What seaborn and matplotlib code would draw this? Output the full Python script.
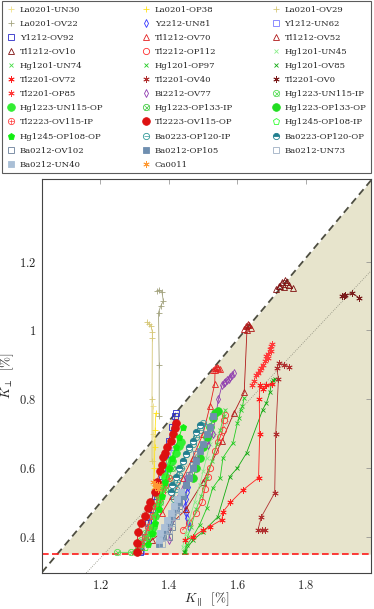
import matplotlib
matplotlib.use("Agg")
import matplotlib.pyplot as plt
from matplotlib.lines import Line2D
from matplotlib.ticker import FuncFormatter
import seaborn as sns

# ---- series values (K_par, K_perp in %) ----
la0201_un30_x = [1.354, 1.354, 1.355, 1.355]
la0201_un30_y = [0.78, 0.70, 0.62, 0.55]
la0201_op38_x = [1.362, 1.360, 1.359, 1.358, 1.356]
la0201_op38_y = [0.76, 0.71, 0.66, 0.60, 0.54]
la0201_ov29_x = [1.337, 1.342, 1.348, 1.352, 1.352, 1.351, 1.351]
la0201_ov29_y = [1.025, 1.020, 1.012, 0.996, 0.978, 0.80, 0.62]
la0201_ov22_x = [1.366, 1.372, 1.380, 1.384, 1.376, 1.370, 1.372, 1.372]
la0201_ov22_y = [1.115, 1.118, 1.112, 1.085, 1.070, 1.052, 0.90, 0.75]
y2212_un81_x = [1.455, 1.452, 1.450, 1.448, 1.450, 1.452, 1.455, 1.458]
y2212_un81_y = [0.545, 0.530, 0.510, 0.490, 0.470, 0.455, 0.440, 0.430]
y1212_un62_x = [1.41, 1.40, 1.39, 1.38, 1.37, 1.36, 1.35, 1.34, 1.32]
y1212_un62_y = [0.66, 0.62, 0.58, 0.55, 0.52, 0.49, 0.45, 0.41, 0.36]
y1212_ov92_x = [1.420, 1.418, 1.410, 1.400, 1.390, 1.380, 1.370, 1.360, 1.350, 1.340, 1.330, 1.315]
y1212_ov92_y = [0.760, 0.750, 0.720, 0.680, 0.640, 0.600, 0.560, 0.520, 0.480, 0.440, 0.400, 0.355]
tl1212_ov70_x = [1.530, 1.535, 1.540, 1.545, 1.550, 1.535, 1.534, 1.520, 1.500, 1.470, 1.440, 1.410, 1.380, 1.350, 1.330]
tl1212_ov70_y = [0.885, 0.890, 0.895, 0.892, 0.888, 0.885, 0.845, 0.780, 0.700, 0.630, 0.570, 0.520, 0.470, 0.430, 0.390]
tl1212_ov52_x = [1.620, 1.625, 1.630, 1.635, 1.640, 1.628, 1.620, 1.590, 1.555, 1.500, 1.450, 1.400, 1.350, 1.320]
tl1212_ov52_y = [1.005, 1.012, 1.018, 1.015, 1.008, 1.000, 0.820, 0.760, 0.680, 0.560, 0.480, 0.430, 0.390, 0.370]
tl1212_ov10_x = [1.714, 1.722, 1.730, 1.738, 1.745, 1.752, 1.761, 1.735, 1.725]
tl1212_ov10_y = [1.120, 1.130, 1.140, 1.146, 1.140, 1.132, 1.122, 1.125, 1.128]
tl2212_op112_x = [1.563, 1.560, 1.557, 1.550, 1.543, 1.535, 1.520, 1.514, 1.505, 1.497, 1.480, 1.460, 1.440]
tl2212_op112_y = [0.755, 0.740, 0.710, 0.690, 0.675, 0.650, 0.600, 0.575, 0.540, 0.500, 0.470, 0.440, 0.420]
hg1201_un45_x = [1.530, 1.520, 1.510, 1.500, 1.490, 1.475, 1.460, 1.450, 1.440]
hg1201_un45_y = [0.700, 0.670, 0.630, 0.590, 0.550, 0.500, 0.450, 0.410, 0.370]
hg1201_un74_x = [1.565, 1.560, 1.550, 1.540, 1.525, 1.510, 1.495, 1.480, 1.465, 1.455, 1.447]
hg1201_un74_y = [0.770, 0.750, 0.710, 0.670, 0.620, 0.570, 0.520, 0.480, 0.430, 0.400, 0.360]
hg1201_op97_x = [1.620, 1.615, 1.610, 1.605, 1.600, 1.587, 1.558, 1.550, 1.528, 1.511, 1.490, 1.470, 1.453, 1.447]
hg1201_op97_y = [0.805, 0.780, 0.770, 0.745, 0.730, 0.673, 0.630, 0.572, 0.542, 0.484, 0.435, 0.400, 0.376, 0.356]
hg1201_ov85_x = [1.710, 1.705, 1.700, 1.695, 1.685, 1.674, 1.627, 1.600, 1.578, 1.543, 1.500, 1.470, 1.445]
hg1201_ov85_y = [0.860, 0.855, 0.850, 0.820, 0.790, 0.770, 0.644, 0.600, 0.575, 0.458, 0.415, 0.390, 0.355]
tl2201_ov72_x = [1.685, 1.700, 1.675, 1.665, 1.664, 1.665, 1.662, 1.616, 1.580, 1.558, 1.555, 1.520, 1.500, 1.470, 1.447]
tl2201_ov72_y = [0.840, 0.845, 0.830, 0.840, 0.800, 0.700, 0.572, 0.536, 0.500, 0.473, 0.450, 0.430, 0.420, 0.400, 0.390]
tl2201_ov40_x = [1.750, 1.735, 1.722, 1.715, 1.720, 1.712, 1.709, 1.670, 1.660, 1.672, 1.682]
tl2201_ov40_y = [0.895, 0.900, 0.905, 0.890, 0.860, 0.700, 0.528, 0.458, 0.420, 0.420, 0.420]
tl2201_ov0_x = [1.905, 1.910, 1.915, 1.935, 1.955]
tl2201_ov0_y = [1.100, 1.100, 1.102, 1.108, 1.095]
tl2201_op85_x = [1.642, 1.648, 1.655, 1.660, 1.665, 1.670, 1.675, 1.680, 1.685, 1.690, 1.695, 1.698, 1.700, 1.697, 1.690]
tl2201_op85_y = [0.842, 0.852, 0.870, 0.875, 0.885, 0.890, 0.900, 0.910, 0.925, 0.930, 0.945, 0.955, 0.960, 0.940, 0.920]
bi2212_ov77_x = [1.590, 1.585, 1.580, 1.575, 1.570, 1.565, 1.560, 1.555, 1.545, 1.528, 1.514, 1.480, 1.450, 1.430, 1.410, 1.400]
bi2212_ov77_y = [0.877, 0.870, 0.865, 0.860, 0.855, 0.850, 0.848, 0.840, 0.800, 0.700, 0.667, 0.620, 0.570, 0.520, 0.450, 0.390]
hg1223_un115_ip_x = [1.250, 1.290, 1.310, 1.320, 1.330, 1.340, 1.350, 1.360, 1.370, 1.380]
hg1223_un115_ip_y = [0.355, 0.355, 0.370, 0.390, 0.410, 0.430, 0.460, 0.490, 0.520, 0.550]
hg1223_un115_op_x = [1.435, 1.430, 1.420, 1.410, 1.400, 1.390, 1.380, 1.370, 1.365, 1.360, 1.355, 1.350]
hg1223_un115_op_y = [0.675, 0.665, 0.645, 0.620, 0.600, 0.575, 0.550, 0.520, 0.490, 0.460, 0.430, 0.410]
hg1223_op133_ip_x = [1.310, 1.320, 1.335, 1.350, 1.360, 1.375, 1.390, 1.400, 1.410]
hg1223_op133_ip_y = [0.360, 0.380, 0.400, 0.430, 0.460, 0.500, 0.540, 0.570, 0.600]
hg1223_op133_op_x = [1.545, 1.535, 1.530, 1.520, 1.510, 1.500, 1.490, 1.480, 1.470]
hg1223_op133_op_y = [0.765, 0.760, 0.745, 0.720, 0.690, 0.660, 0.630, 0.600, 0.570]
tl2223_ov115_ip_x = [1.310, 1.320, 1.330, 1.340, 1.350, 1.360, 1.370, 1.380, 1.390, 1.400]
tl2223_ov115_ip_y = [0.355, 0.380, 0.400, 0.430, 0.460, 0.490, 0.510, 0.530, 0.550, 0.570]
tl2223_ov115_op_x = [1.420, 1.418, 1.413, 1.405, 1.395, 1.390, 1.383, 1.380, 1.374, 1.365, 1.360, 1.345, 1.340, 1.330, 1.318, 1.310, 1.308, 1.308]
tl2223_ov115_op_y = [0.730, 0.715, 0.700, 0.680, 0.660, 0.645, 0.633, 0.610, 0.590, 0.560, 0.530, 0.500, 0.484, 0.460, 0.440, 0.415, 0.383, 0.355]
hg1245_op108_ip_x = [1.330, 1.340, 1.350, 1.360, 1.370, 1.380, 1.390, 1.400]
hg1245_op108_ip_y = [0.370, 0.400, 0.430, 0.460, 0.500, 0.540, 0.580, 0.620]
hg1245_op108_op_x = [1.340, 1.350, 1.360, 1.370, 1.380, 1.390, 1.400, 1.410, 1.420, 1.430, 1.440]
hg1245_op108_op_y = [0.380, 0.410, 0.440, 0.480, 0.520, 0.560, 0.600, 0.630, 0.660, 0.690, 0.720]
ba0223_op120_ip_x = [1.500, 1.495, 1.490, 1.480, 1.470, 1.460, 1.450, 1.440, 1.435, 1.430, 1.425, 1.420, 1.415]
ba0223_op120_ip_y = [0.730, 0.725, 0.710, 0.690, 0.670, 0.655, 0.640, 0.620, 0.600, 0.580, 0.560, 0.540, 0.510]
ba0223_op120_op_x = [1.490, 1.480, 1.470, 1.460, 1.450, 1.440, 1.430, 1.420, 1.410, 1.405]
ba0223_op120_op_y = [0.725, 0.705, 0.680, 0.660, 0.640, 0.620, 0.600, 0.575, 0.550, 0.530]
ba0212_ov102_x = [1.400, 1.410, 1.420, 1.430, 1.440, 1.450, 1.460, 1.470, 1.480]
ba0212_ov102_y = [0.400, 0.430, 0.460, 0.490, 0.520, 0.550, 0.580, 0.610, 0.640]
ba0212_op105_x = [1.370, 1.380, 1.390, 1.400, 1.410, 1.420, 1.430, 1.440, 1.450, 1.460, 1.470, 1.480, 1.490, 1.500, 1.510, 1.520, 1.530]
ba0212_op105_y = [0.380, 0.400, 0.420, 0.440, 0.460, 0.480, 0.500, 0.520, 0.550, 0.570, 0.600, 0.620, 0.650, 0.670, 0.700, 0.720, 0.750]
ba0212_un73_x = [1.380, 1.390, 1.400, 1.410, 1.420, 1.430]
ba0212_un73_y = [0.380, 0.400, 0.420, 0.440, 0.460, 0.480]
ba0212_un40_x = [1.370, 1.375, 1.385, 1.395, 1.405, 1.415, 1.425, 1.435]
ba0212_un40_y = [0.390, 0.410, 0.430, 0.450, 0.470, 0.490, 0.510, 0.530]
ca0011_x = [1.355, 1.360, 1.365, 1.360, 1.368, 1.372]
ca0011_y = [0.560, 0.555, 0.550, 0.545, 0.540, 0.550]

# guide lines
bound_x = [1.03, 1.99]
bound_y = [0.297, 1.436]
trend_x = [1.159, 1.99]
trend_y = [0.295, 1.173]
k_min = 0.35

labels = ["La0201-UN30", "La0201-OP38", "La0201-OV29", "La0201-OV22", "Y2212-UN81",
          "Y1212-UN62", "Y1212-OV92", "Tl1212-OV70", "Tl1212-OV52", "Tl1212-OV10",
          "Tl2212-OP112", "Hg1201-UN45", "Hg1201-UN74", "Hg1201-OP97", "Hg1201-OV85",
          "Tl2201-OV72", "Tl2201-OV40", "Tl2201-OV0", "Tl2201-OP85", "Bi2212-OV77",
          "Hg1223-UN115-IP", "Hg1223-UN115-OP", "Hg1223-OP133-IP", "Hg1223-OP133-OP",
          "Tl2223-OV115-IP", "Tl2223-OV115-OP", "Hg1245-OP108-IP", "Hg1245-OP108-OP",
          "Ba0223-OP120-IP", "Ba0223-OP120-OP", "Ba0212-OV102", "Ba0212-OP105",
          "Ba0212-UN73", "Ba0212-UN40", "Ca0011"]

data = [(la0201_un30_x, la0201_un30_y), (la0201_op38_x, la0201_op38_y),
        (la0201_ov29_x, la0201_ov29_y), (la0201_ov22_x, la0201_ov22_y),
        (y2212_un81_x, y2212_un81_y), (y1212_un62_x, y1212_un62_y),
        (y1212_ov92_x, y1212_ov92_y), (tl1212_ov70_x, tl1212_ov70_y),
        (tl1212_ov52_x, tl1212_ov52_y), (tl1212_ov10_x, tl1212_ov10_y),
        (tl2212_op112_x, tl2212_op112_y), (hg1201_un45_x, hg1201_un45_y),
        (hg1201_un74_x, hg1201_un74_y), (hg1201_op97_x, hg1201_op97_y),
        (hg1201_ov85_x, hg1201_ov85_y), (tl2201_ov72_x, tl2201_ov72_y),
        (tl2201_ov40_x, tl2201_ov40_y), (tl2201_ov0_x, tl2201_ov0_y),
        (tl2201_op85_x, tl2201_op85_y), (bi2212_ov77_x, bi2212_ov77_y),
        (hg1223_un115_ip_x, hg1223_un115_ip_y), (hg1223_un115_op_x, hg1223_un115_op_y),
        (hg1223_op133_ip_x, hg1223_op133_ip_y), (hg1223_op133_op_x, hg1223_op133_op_y),
        (tl2223_ov115_ip_x, tl2223_ov115_ip_y), (tl2223_ov115_op_x, tl2223_ov115_op_y),
        (hg1245_op108_ip_x, hg1245_op108_ip_y), (hg1245_op108_op_x, hg1245_op108_op_y),
        (ba0223_op120_ip_x, ba0223_op120_ip_y), (ba0223_op120_op_x, ba0223_op120_op_y),
        (ba0212_ov102_x, ba0212_ov102_y), (ba0212_op105_x, ba0212_op105_y),
        (ba0212_un73_x, ba0212_un73_y), (ba0212_un40_x, ba0212_un40_y),
        (ca0011_x, ca0011_y)]

# marker, colour, fill ('none' / 'full' / 'top'), size, overlay marker
AST = (6, 2, 0)
styles = [("+", "#efe08a", "none", 4.5, None), ("+", "#ffe21a", "none", 4.5, None),
          ("+", "#d6c777", "none", 4.5, None), ("+", "#a3a37f", "none", 4.5, None),
          ("d", "#3434ff", "none", 4, None), ("s", "#7a7aff", "none", 3.8, None),
          ("s", "#2a2ac8", "none", 3.8, None), ("^", "#e52020", "none", 4, None),
          ("^", "#b01818", "none", 4, None), ("^", "#801010", "none", 4, None),
          ("o", "#ff3030", "none", 4.5, None), ("x", "#8aee8a", "none", 3.5, None),
          ("x", "#44dd44", "none", 3.5, None), ("x", "#22cc22", "none", 3.5, None),
          ("x", "#11aa11", "none", 3.5, None), (AST, "#ff2020", "none", 4.5, None),
          (AST, "#b03030", "none", 4.5, None), (AST, "#7a1a1a", "none", 4.5, None),
          (AST, "#ff3a3a", "none", 4.5, None), ("d", "#8e3bb0", "none", 4, None),
          ("o", "#55dd55", "none", 4.5, "x"), ("o", "#33ee33", "full", 5.5, None),
          ("o", "#44cc44", "none", 4.5, "x"), ("o", "#22dd22", "full", 5.5, None),
          ("o", "#ff4444", "none", 4.5, "+"), ("o", "#dd1111", "full", 5.5, None),
          ("p", "#33ff33", "none", 4.5, None), ("p", "#11ee11", "full", 4.5, None),
          ("o", "#339999", "none", 4.5, "_"), ("o", "#227f8f", "top", 4.5, None),
          ("s", "#6a7f99", "none", 4, None), ("s", "#6f8fb0", "full", 4, None),
          ("s", "#9fb0c4", "none", 4, None), ("s", "#aabfd6", "full", 4, None),
          (AST, "#ff9933", "none", 4.5, None)]

sns.set_style("white")
plt.rcParams['font.family'] = ['Liberation Serif', 'DejaVu Serif']
plt.rcParams['mathtext.fontset'] = 'cm'

fig = plt.figure(figsize=(3.74, 6.09), dpi=100)
ax = fig.add_axes([42 / 374, 1 - 573 / 609, 329 / 374, 394 / 609])

# allowed region and guide lines
x0 = bound_x[0] + (k_min - bound_y[0]) * (bound_x[1] - bound_x[0]) / (bound_y[1] - bound_y[0])
ax.fill_between([x0, bound_x[1]], [k_min, k_min], [k_min, bound_y[1]], color="#e7e4cc", lw=0, zorder=0)
ax.plot(bound_x, bound_y, color="#4d4d40", lw=1.3, dashes=(4, 2.5), zorder=1)
ax.plot(trend_x, trend_y, color="#8a8a7a", lw=0.6, ls=":", zorder=1)
ax.axhline(k_min, color="#ff1a1a", lw=1.2, dashes=(4, 2), zorder=1)


def make_kws(st):
    marker, color, fill, ms, _ = st
    kws = dict(marker=marker, color=color, markersize=ms, markeredgecolor=color,
               markeredgewidth=0.6)
    if fill == "none":
        kws["markerfacecolor"] = "none"
    elif fill == "top":
        kws["fillstyle"] = "top"
        kws["markerfacecolor"] = color
        kws["markerfacecoloralt"] = "white"
    else:
        kws["markerfacecolor"] = color
    return kws


handles = []
for (xs, ys), st in zip(data, styles):
    kws = make_kws(st)
    sns.lineplot(x=xs, y=ys, ax=ax, sort=False, estimator=None, lw=0.6, zorder=3, **kws)
    h = Line2D([], [], ls="none", **kws)
    if st[4] is not None:
        ax.plot(xs, ys, ls="none", marker=st[4], color=st[1], markersize=st[3] * 0.8,
                markeredgewidth=0.5, zorder=3)
        h2 = Line2D([], [], ls="none", marker=st[4], color=st[1], markersize=st[3] * 0.8,
                    markeredgewidth=0.5)
        h = (h, h2)
    handles.append(h)

ax.set_xlim(1.03, 1.99)
ax.set_ylim(0.295, 1.44)
ax.set_xticks([1.2, 1.4, 1.6, 1.8])
ax.set_yticks([0.4, 0.6, 0.8, 1.0, 1.2])
fmt = FuncFormatter(lambda v, p: f"${v:g}$")
ax.xaxis.set_major_formatter(fmt)
ax.yaxis.set_major_formatter(fmt)
ax.tick_params(direction="in", top=True, right=True, length=3.5, width=0.5,
               color="#888888", labelsize=9, pad=4)
for sp in ax.spines.values():
    sp.set_color("#444444")
    sp.set_linewidth(0.8)
ax.set_xlabel(r"$K_{\parallel}\;\;[\%]$", fontsize=9.5, labelpad=-1)
ax.set_ylabel(r"$K_{\perp}\;\;[\%]$", fontsize=9.5, labelpad=2)

# legend filled row by row, three columns
order = [i for c in range(3) for i in range(c, len(labels), 3)]
leg = fig.legend([handles[i] for i in order], [labels[i] for i in order], ncol=3,
                 loc="upper left", bbox_to_anchor=(2 / 374, 1 - 175 / 609, 369 / 374, 174 / 609),
                 mode="expand", borderaxespad=0, frameon=True, fancybox=False,
                 prop={"family": "DejaVu Serif", "size": 6.1},
                 handlelength=1.0, handletextpad=0.55, labelspacing=0.72, borderpad=0.55,
                 columnspacing=0.5)
leg.get_frame().set_edgecolor("#333333")
leg.get_frame().set_linewidth(0.8)

fig.savefig("out.png", dpi=100)
